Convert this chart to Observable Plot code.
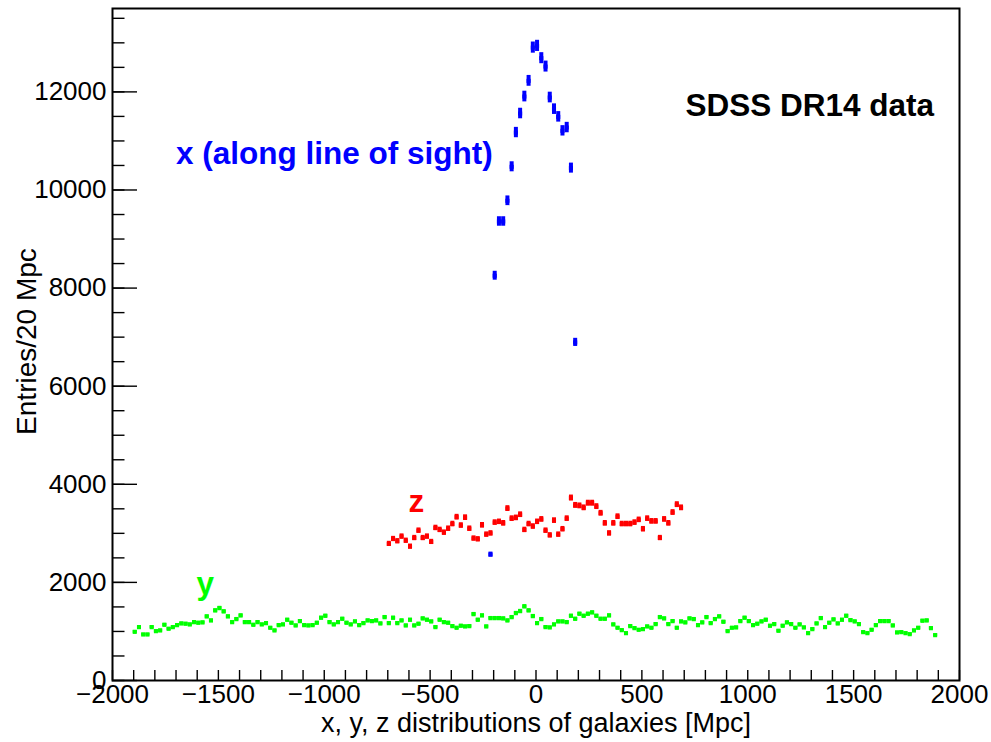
<!DOCTYPE html>
<html>
<head>
<meta charset="utf-8">
<script src="https://cdn.jsdelivr.net/npm/d3@7"></script>
<script src="https://cdn.jsdelivr.net/npm/@observablehq/plot@0.6"></script>
<style>
  html, body { margin: 0; padding: 0; background: #fff; }
  #chart svg { display: block; }
</style>
</head>
<body>
<div id="chart"></div>
<script>
// ---- Data (entries per 20 Mpc bin) ----
const binWidth = 20;

// x (along line of sight), blue
const xFirstCenter = -215;
const xCounts = [2567, 8252, 9358, 9358, 9780, 10473, 11171, 11559, 11905, 12225,
  12903, 12938, 12687, 12516, 11885, 11648, 11491, 11206, 11273, 10446, 6893];

// z, red
const zFirstCenter = -695;
const zCounts = [2785, 2885, 2840, 2935, 2850, 2730, 2905, 3055, 2905, 2935,
  2825, 3110, 3070, 3015, 3095, 3190, 3330, 3160, 3320, 3095,
  2895, 2880, 3165, 2975, 3000, 3220, 3235, 3205, 3505, 3300,
  3315, 3380, 3070, 3190, 3140, 3235, 3285, 3055, 2960, 3260,
  2975, 3085, 3300, 3720, 3570, 3560, 3520, 3615, 3615, 3545,
  3410, 3205, 3000, 3205, 3340, 3190, 3190, 3190, 3220, 3275,
  3085, 3300, 3245, 3245, 2905, 3285, 3205, 3425, 3585, 3520];

// y, green
const yFirstCenter = -1895;
const yCounts = [991, 1087, 937, 937, 1087, 1005, 1019, 1134, 1053, 1087,
  1127, 1161, 1155, 1141, 1188, 1175, 1182, 1304, 1222, 1426,
  1474, 1406, 1304, 1188, 1250, 1324, 1188, 1188, 1134, 1188,
  1141, 1168, 1073, 1019, 1127, 1141, 1236, 1175, 1120, 1209,
  1127, 1120, 1127, 1175, 1277, 1317, 1188,
  1141, 1188, 1256, 1175, 1141, 1202, 1127, 1168, 1222, 1209,
  1222, 1161, 1290, 1168, 1277, 1168, 1222, 1120, 1236, 1120,
  1155, 1263, 1236, 1202, 1087, 1236, 1188, 1175, 1107, 1073,
  1114, 1100, 1107, 1351, 1236, 1324, 1100, 1270, 1270, 1270,
  1263, 1222, 1290, 1372, 1413, 1508, 1426, 1311, 1168,
  1250, 1087, 1080, 1141, 1202, 1202, 1188, 1317, 1256, 1358,
  1317, 1358, 1385, 1317, 1256, 1256, 1324, 1141, 1073, 1025,
  964, 1107, 1066, 1032, 1046, 1100, 1073, 1148, 1290, 1263,
  1148, 1209, 1073, 1202, 1182, 1263, 1250, 1127, 1182, 1290,
  1168, 1250, 1304, 1195, 1005, 1073, 1080, 1209, 1277, 1209,
  1127, 1155, 1202, 1236, 1114, 1148, 1012, 1114, 1182, 1148,
  1073, 1141, 1080, 964, 1046, 1161, 1270, 1087, 1175, 1243,
  1161, 1236, 1317, 1229, 1202, 1148, 985, 964, 1032, 1127,
  1209, 1209, 1209, 1120, 978, 985, 964, 944, 1019, 1073,
  1216, 1222, 1066, 924];

// axis ticks
const xTicks = [-2000, -1500, -1000, -500, 0, 500, 1000, 1500, 2000];
const yTicks = [0, 2000, 4000, 6000, 8000, 10000, 12000];
const xDomain = [-2000, 2000];
const yDomain = [0, 13700];

// annotations (data coordinates)
const notes = [
  {text: "x (along line of sight)", x: -1700, y: 10540, color: "#0000ff"},
  {text: "SDSS DR14 data", x: 706, y: 11500, color: "#000000"},
  {text: "z", x: -602, y: 3445, color: "#ff0000"},
  {text: "y", x: -1603, y: 1770, color: "#00ff00"}
];
const xTitle = "x, y, z distributions of galaxies [Mpc]";
const yTitle = "Entries/20 Mpc";

// ---- build tables ----
const toRows = (first, counts) => counts.map((v, i) => ({x: first + i * binWidth, v}));
const series = [
  {rows: toRows(yFirstCenter, yCounts), color: "#00ff00"},
  {rows: toRows(zFirstCenter, zCounts), color: "#ff0000"},
  {rows: toRows(xFirstCenter, xCounts), color: "#0000ff"}
];
const xMinor = d3.range(xDomain[0], xDomain[1] + 1, 100);
const yMinor = d3.range(yDomain[0], yDomain[1], 500);

const font = "'Liberation Sans', Arial, Helvetica, sans-serif";

const marks = [];
// minor & major ticks inward, labels outside
marks.push(Plot.axisY(yMinor, {tickSize: -12.5, tickFormat: () => "", label: null, strokeWidth: 1.4}));
marks.push(Plot.axisY(yTicks, {tickSize: -25, tickFormat: () => "", label: null, strokeWidth: 1.4}));
marks.push(Plot.axisY(yTicks, {tickSize: 0, tickPadding: 6, label: null, fontSize: 26, tickFormat: d => String(d)}));
marks.push(Plot.axisX(xMinor, {tickSize: -10, tickFormat: () => "", label: null, strokeWidth: 1.4}));
marks.push(Plot.axisX(xTicks, {tickSize: 0, tickPadding: 4, label: null, fontSize: 26, tickFormat: d => d < 0 ? "\u2212" + Math.abs(d) : String(d)}));

for (const s of series) {
  marks.push(Plot.ruleX(s.rows, {
    x: "x",
    y1: d => d.v - Math.sqrt(d.v),
    y2: d => d.v + Math.sqrt(d.v),
    stroke: s.color, strokeWidth: 4
  }));
  marks.push(Plot.dot(s.rows, {x: "x", y: "v", symbol: "square", r: 2.3, fill: s.color, stroke: "none"}));
}

marks.push(Plot.text(notes, {
  x: "x", y: "y", text: "text", fill: d => d.color,
  textAnchor: "start", lineAnchor: "bottom",
  fontSize: 31.5, fontWeight: "bold"
}));
marks.push(Plot.text([xTitle], {text: d => d, frameAnchor: "bottom", textAnchor: "middle", dy: 51, lineAnchor: "bottom", fontSize: 27}));
marks.push(Plot.text([yTitle], {text: d => d, frameAnchor: "left", textAnchor: "middle", dx: -77, dy: -3, rotate: -90, lineAnchor: "bottom", fontSize: 28}));
marks.push(Plot.frame({stroke: "black", strokeWidth: 2}));

const chart = Plot.plot({
  width: 991,
  height: 742,
  marginLeft: 112,
  marginRight: 32,
  marginTop: 8,
  marginBottom: 62,
  style: {fontFamily: font, fontSize: "26px", background: "#fff", color: "#000", overflow: "visible"},
  x: {domain: xDomain, label: null},
  y: {domain: yDomain, label: null},
  marks
});
document.getElementById("chart").appendChild(chart);
</script>
</body>
</html>
